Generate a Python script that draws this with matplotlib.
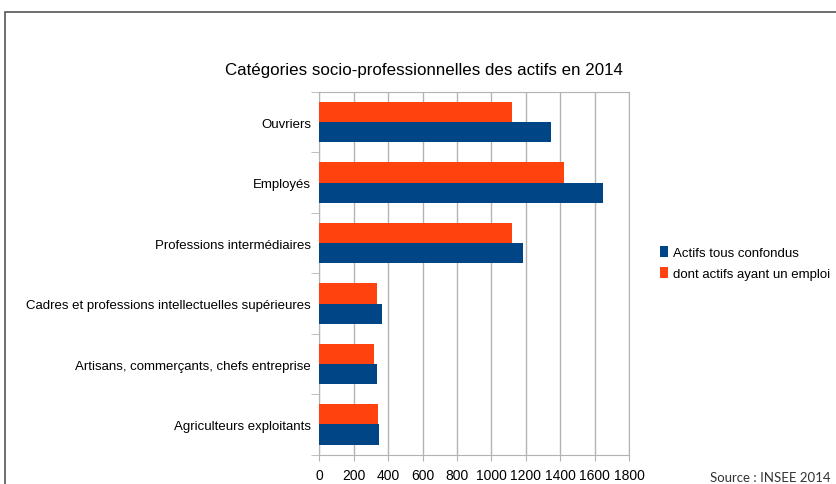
import matplotlib.pyplot as plt
from matplotlib.patches import Rectangle
import numpy as np

plt.rcParams['font.family'] = ['Liberation Sans', 'DejaVu Sans']

# -- data --
categories = ['Ouvriers', 'Employés', 'Professions intermédiaires',
              'Cadres et professions intellectuelles supérieures',
              'Artisans, commerçants, chefs entreprise',
              'Agriculteurs exploitants']
actifs = [1345, 1650, 1185, 362, 333, 345]
avec_emploi = [1120, 1420, 1120, 333, 320, 338]
xticks = [0, 200, 400, 600, 800, 1000, 1200, 1400, 1600, 1800]

blue = '#004586'
orange = '#ff420e'

fig = plt.figure(figsize=(8.36, 4.85), dpi=100)
ax = fig.add_axes([0.382, 0.0604, 0.3706, 0.748])

y = np.arange(len(categories))
h = 1 / 3
b_or = ax.barh(y - h / 2, avec_emploi, height=h, color=orange, zorder=3)
b_bl = ax.barh(y + h / 2, actifs, height=h, color=blue, zorder=3)

ax.set_xlim(0, 1800)
ax.set_ylim(len(categories) - 0.5, -0.5)
ax.set_xticks(xticks)
ax.set_xticklabels([str(t) for t in xticks], fontsize=10)
ax.set_yticks(y)
ax.set_yticklabels(categories, fontsize=9.5)
ax.tick_params(axis='y', length=0, pad=6)
ax.set_yticks(np.arange(-0.5, len(categories)), minor=True)
ax.tick_params(axis='y', which='minor', length=6, color='#b3b3b3')
ax.tick_params(axis='x', length=4, color='#b3b3b3', pad=5.5)
ax.grid(axis='x', color='#b3b3b3', linewidth=1, zorder=0)
for s in ax.spines.values():
    s.set_color('#b3b3b3')

fig.text(0.507, 0.855, 'Catégories socio-professionnelles des actifs en 2014',
         ha='center', va='center', fontsize=12.2)

fig.legend([b_bl, b_or], ['Actifs tous confondus', 'dont actifs ayant un emploi'],
           loc='center left', bbox_to_anchor=(0.775, 0.455), frameon=False,
           fontsize=9.5, handlelength=0.6, handleheight=0.9, handletextpad=0.4,
           labelspacing=0.6)

fig.text(0.993, 0.003, 'Source : INSEE 2014', ha='right', va='bottom',
         fontsize=9.5, family=['Lato', 'DejaVu Sans'], color='#333333')

# outer frame
fig.patches.append(Rectangle((5 / 836, -0.1), 1.0, 1.1 - 13 / 485,
                             transform=fig.transFigure, fill=False,
                             edgecolor='#555555', linewidth=1.2))

fig.savefig('out.png', dpi=100)
